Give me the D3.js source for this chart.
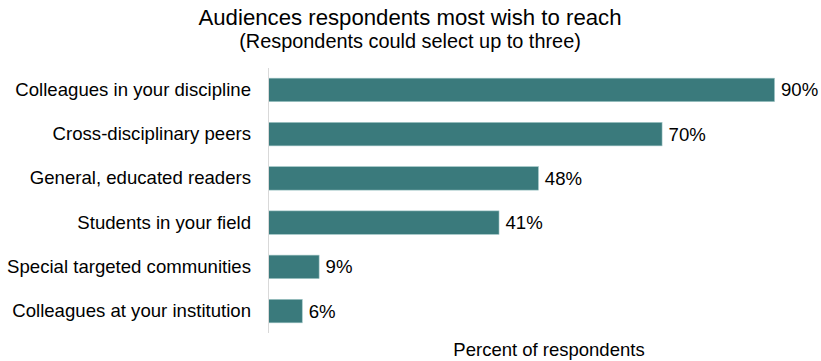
<!DOCTYPE html>
<html>
<head>
<meta charset="utf-8">
<script src="https://cdn.jsdelivr.net/npm/d3@7"></script>
<style>
  html, body { margin: 0; padding: 0; background: #fff; }
  svg { display: block; font-family: "Liberation Sans", Arial, sans-serif; }
</style>
</head>
<body>
<svg id="chart" width="821" height="361"></svg>
<script>
// Survey: audiences respondents most wish to reach (up to three choices)
const categories = [
  "Colleagues in your discipline",
  "Cross-disciplinary peers",
  "General, educated readers",
  "Students in your field",
  "Special targeted communities",
  "Colleagues at your institution"
];
const percents = [90, 70, 48, 41, 9, 6];

const titleText = "Audiences respondents most wish to reach";
const subtitleText = "(Respondents could select up to three)";
const xAxisTitle = "Percent of respondents";

const width = 821, height = 361;
const margin = { top: 68, right: 47, bottom: 28, left: 268 };
const barColor = "#3a7a7c";
const labelSize = 18.6;

const svg = d3.select("#chart");

const x = d3.scaleLinear()
  .domain([0, 90])
  .range([margin.left, 774]);

const y = d3.scaleBand()
  .domain(categories)
  .range([margin.top, height - margin.bottom])
  .paddingInner(0.47)
  .paddingOuter(0.23);

// Titles
svg.append("text")
  .attr("x", 410).attr("y", 25)
  .attr("text-anchor", "middle")
  .attr("font-size", 22.2)
  .attr("fill", "#000")
  .text(titleText);

svg.append("text")
  .attr("x", 410).attr("y", 48)
  .attr("text-anchor", "middle")
  .attr("font-size", 19.9)
  .attr("fill", "#000")
  .text(subtitleText);

// Bars
svg.append("g")
  .selectAll("rect")
  .data(categories.map((c, i) => ({ c, v: percents[i] })))
  .join("rect")
  .attr("x", x(0) + 0.5)
  .attr("y", d => y(d.c))
  .attr("width", d => x(d.v) - x(0))
  .attr("height", y.bandwidth())
  .attr("fill", barColor)
  .attr("stroke", "#9cc3c4")
  .attr("stroke-width", 0.6);

// Category axis
const yAxis = d3.axisLeft(y).tickSize(0).tickPadding(17);
const gy = svg.append("g")
  .attr("transform", `translate(${x(0)},0)`)
  .call(yAxis);
gy.select(".domain")
  .attr("stroke", "#d9d9d9")
  .attr("d", `M0.5,${margin.top}V${height - margin.bottom}`);
gy.selectAll("text")
  .attr("font-size", labelSize)
  .attr("font-family", "Liberation Sans, Arial, sans-serif")
  .attr("fill", "#000");

// Value labels
svg.append("g")
  .selectAll("text")
  .data(categories.map((c, i) => ({ c, v: percents[i] })))
  .join("text")
  .attr("x", d => x(d.v) + 7)
  .attr("y", d => y(d.c) + y.bandwidth() / 2)
  .attr("dy", "0.35em")
  .attr("font-size", labelSize)
  .attr("fill", "#000")
  .text(d => d.v + "%");

// Axis title
svg.append("text")
  .attr("x", 549).attr("y", 356)
  .attr("text-anchor", "middle")
  .attr("font-size", 18.5)
  .attr("fill", "#000")
  .text(xAxisTitle);
</script>
</body>
</html>
